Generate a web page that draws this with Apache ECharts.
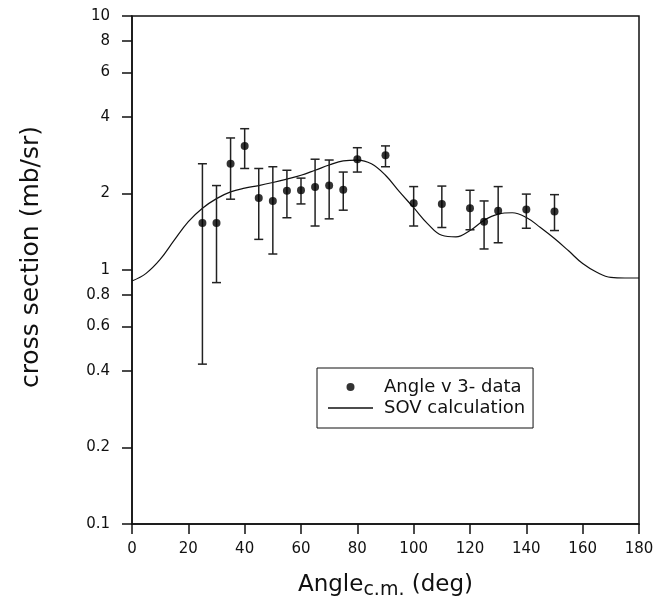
<!doctype html>
<html>
<head>
	<meta charset="utf-8">
	<title>cross section</title>
	<script src="https://cdn.jsdelivr.net/npm/echarts/dist/echarts.min.js"></script>
	<style>
		html, body {margin:0; padding:0; background:#fff;}
		#main {width:669px; height:614px;}
	</style>
</head>
<body>
	<div id="main"></div>
<script>
	"use strict";
	// measured points (deg, mb/sr) with error bar ends
	var angles = [25, 30, 35, 40, 45, 50, 55, 60, 65, 70, 75, 80, 90, 100, 110, 120, 125, 130, 140, 150];
	var sigma  = [1.53, 1.53, 2.62, 3.08, 1.92, 1.87, 2.05, 2.06, 2.12, 2.15, 2.07, 2.73, 2.83, 1.83, 1.82, 1.75, 1.55, 1.71, 1.73, 1.70];
	var errHi  = [2.62, 2.15, 3.31, 3.60, 2.51, 2.55, 2.47, 2.30, 2.73, 2.71, 2.43, 3.03, 3.08, 2.13, 2.14, 2.06, 1.87, 2.13, 1.99, 1.98];
	var errLo  = [0.426, 0.892, 1.90, 2.51, 1.32, 1.156, 1.606, 1.82, 1.49, 1.59, 1.72, 2.43, 2.55, 1.49, 1.47, 1.44, 1.21, 1.28, 1.46, 1.43];

	// SOV calculation curve
	var calcAngle = [0, 5, 10, 15, 20, 25, 30, 35, 40, 45, 50, 55, 60, 65, 70, 75, 80, 85, 90,
		95, 100, 105, 110, 115, 120, 125, 130, 135, 140, 145, 150, 155, 160, 165, 170, 175, 180];
	var calcSigma = [0.905, 0.97, 1.10, 1.31, 1.55, 1.75, 1.91, 2.03, 2.10, 2.15, 2.21, 2.28, 2.36, 2.47, 2.59, 2.69, 2.71, 2.62, 2.36,
		2.03, 1.76, 1.52, 1.37, 1.35, 1.43, 1.57, 1.66, 1.68, 1.61, 1.47, 1.33, 1.19, 1.06, 0.98, 0.935, 0.93, 0.93];

	var yTicks = [0.1, 0.2, 0.4, 0.6, 0.8, 1, 2, 4, 6, 8, 10];
	var xTicks = [0, 20, 40, 60, 80, 100, 120, 140, 160, 180];

	var FONT = "DejaVu Sans";
	var INK = "#111";

	var pts = [], bars = [], curve = [];
	for (let i = 0; i < angles.length; i++) {
		pts.push([angles[i], sigma[i]]);
		bars.push([angles[i], errLo[i], errHi[i]]);
	}
	for (let i = 0; i < calcAngle.length; i++) {
		curve.push([calcAngle[i], calcSigma[i]]);
	}

	var myChart = echarts.init(document.getElementById("main"));
	myChart.setOption({
		animation: false,
		grid: {left: 132, right: 30, top: 16, bottom: 90, show: true, borderColor: INK, borderWidth: 1.5},
		legend: {
			orient: 'vertical',
			left: 317, top: 368,
			padding: [10, 8, 11, 11],
			itemGap: 3,
			itemWidth: 45, itemHeight: 8,
			borderColor: INK, borderWidth: 1,
			backgroundColor: '#fff',
			textStyle: {fontFamily: FONT, fontSize: 18, color: INK, padding: [0, 0, 0, 6]},
			data: [
				{name: 'Angle v 3- data', icon: 'circle'},
				{name: 'SOV calculation', icon: 'path://M0,0L45,0L45,1.3L0,1.3Z'}
			]
		},
		xAxis: {
			type: 'value', min: 0, max: 180, interval: 20,
			name: '{a|Angle}{b|c.m.}{a| (deg)}',
			nameLocation: 'middle', nameGap: 46,
			nameTextStyle: {
				rich: {
					a: {fontFamily: FONT, fontSize: 23, color: INK, lineHeight: 30, verticalAlign: 'middle'},
					b: {fontFamily: FONT, fontSize: 19, color: INK, lineHeight: 19, verticalAlign: 'bottom', padding: [12, 0, 0, 0]}
				}
			},
			axisLine: {onZero: false, lineStyle: {color: INK, width: 1.5}},
			axisTick: {inside: false, length: 10, lineStyle: {color: INK, width: 1.5}},
			axisLabel: {
				margin: 18, fontFamily: FONT, fontSize: 15, color: INK,
				customValues: xTicks
			},
			splitLine: {show: false}
		},
		yAxis: [{
			type: 'log', logBase: 10, min: 0.1, max: 10,
			axisLine: {show: true, onZero: false, lineStyle: {color: INK, width: 1.5}},
			axisTick: {show: false},
			axisLabel: {show: false},
			splitLine: {show: false}
		}, {
			// tick marks at 0.2, 0.4 ... on the log scale (log10 positions)
			type: 'value', min: -1, max: 1, position: 'left',
			name: 'cross section (mb/sr)',
			nameLocation: 'middle', nameRotate: 90, nameGap: 88,
			nameTextStyle: {fontFamily: FONT, fontSize: 25, color: INK, padding: [0, 0, 0, 26]},
			axisLine: {show: false, onZero: false},
			axisTick: {inside: false, length: 10, lineStyle: {color: INK, width: 1.5},
				customValues: yTicks.map(Math.log10)},
			axisLabel: {
				margin: 22, fontFamily: FONT, fontSize: 15, color: INK,
				customValues: yTicks.map(Math.log10),
				formatter: function (v) {
					for (let i = 0; i < yTicks.length; i++) {
						if (Math.abs(Math.log10(yTicks[i]) - v) < 1e-6) return String(yTicks[i]);
					}
					return '';
				}
			},
			splitLine: {show: false}
		}],
		series: [{
			name: 'SOV calculation',
			type: 'line',
			yAxisIndex: 0,
			data: curve,
			smooth: 0.4,
			symbol: 'none',
			lineStyle: {color: INK, width: 1.2},
			itemStyle: {color: INK},
			z: 2
		}, {
			type: 'custom',
			yAxisIndex: 0,
			data: bars,
			encode: {x: 0, y: [1, 2]},
			renderItem: function (params, api) {
				var x = api.value(0);
				var lo = api.coord([x, api.value(1)]);
				var hi = api.coord([x, api.value(2)]);
				var w = 4.5;
				var st = {stroke: '#222', lineWidth: 1.5};
				return {
					type: 'group',
					children: [
						{type: 'line', shape: {x1: hi[0], y1: hi[1], x2: lo[0], y2: lo[1]}, style: st},
						{type: 'line', shape: {x1: hi[0] - w, y1: hi[1], x2: hi[0] + w, y2: hi[1]}, style: st},
						{type: 'line', shape: {x1: lo[0] - w, y1: lo[1], x2: lo[0] + w, y2: lo[1]}, style: st}
					]
				};
			},
			z: 3
		}, {
			name: 'Angle v 3- data',
			type: 'scatter',
			yAxisIndex: 0,
			data: pts,
			symbol: 'circle',
			symbolSize: 8,
			itemStyle: {color: '#000'},
			z: 4
		}]
	});
</script>
</body>
</html>
